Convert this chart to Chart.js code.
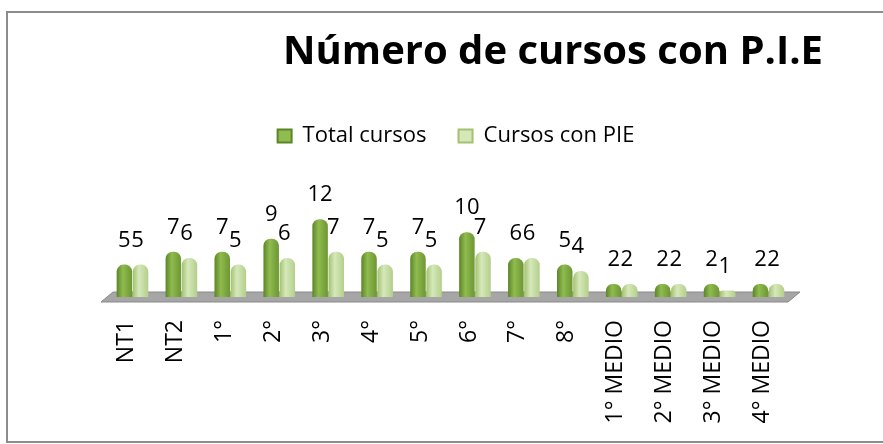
<!DOCTYPE html>
<html>
<head>
<meta charset="utf-8">
<script src="https://cdn.jsdelivr.net/npm/chart.js@4.4.1/dist/chart.umd.min.js"></script>
<style>
  html, body { margin: 0; padding: 0; background: #fff; }
  #wrap { width: 883px; height: 444px; }
</style>
</head>
<body>
<div id="wrap"><canvas id="chart"></canvas></div>
<script>
// data
const categories = ['NT1', 'NT2', '1°', '2°', '3°', '4°', '5°', '6°', '7°', '8°',
  '1° MEDIO', '2° MEDIO', '3° MEDIO', '4° MEDIO'];
const totalCursos = [5, 7, 7, 9, 12, 7, 7, 10, 6, 5, 2, 2, 2, 2];
const cursosConPIE = [5, 6, 5, 6, 7, 5, 5, 7, 6, 4, 2, 2, 1, 2];
const chartTitle = 'Número de cursos con P.I.E';

const FONT = '"Open Sans", "Noto Sans", sans-serif';
const CAT_PCT = 0.66;
const BAR_PCT = 0.96;

// cylinder-ish shading, light in the middle
const shades = [
  ['#5b8527', '#8fbb4f', '#6c9732'],
  ['#a2c271', '#d6e8ba', '#b3cf8a']
];

// gradient across one bar, position taken from the x scale
function barFill(context) {
  const chart = context.chart;
  const x = chart.scales.x;
  const di = context.datasetIndex;
  if (!x || context.type !== 'data' || !isFinite(x.left)) return shades[di][0];
  const catW = x.width / chart.data.labels.length;
  const slot = catW * CAT_PCT / 2;
  const w = slot * BAR_PCT;
  const cx = x.getPixelForValue(context.dataIndex) + (di - 0.5) * slot;
  const g = chart.ctx.createLinearGradient(cx - w / 2, 0, cx + w / 2, 0);
  g.addColorStop(0, shades[di][0]);
  g.addColorStop(0.4, shades[di][1]);
  g.addColorStop(1, shades[di][2]);
  return g;
}

// frame, grey floor and title
const decorPlugin = {
  id: 'decor',
  beforeDraw(chart) {
    const ctx = chart.ctx;
    ctx.save();
    ctx.fillStyle = '#fff';
    ctx.fillRect(0, 0, chart.width, chart.height);
    ctx.strokeStyle = '#8c8c8c';
    ctx.lineWidth = 2;
    ctx.strokeRect(7, 12, chart.width - 6, chart.height - 14);
    ctx.restore();
  },
  beforeDatasetsDraw(chart) {
    const ctx = chart.ctx;
    const x = chart.scales.x, y = chart.scales.y;
    const y0 = y.getPixelForValue(0);
    ctx.save();
    ctx.fillStyle = '#a6a6a6';
    ctx.strokeStyle = '#8a8a8a';
    ctx.lineWidth = 1;
    ctx.beginPath();
    ctx.moveTo(x.left + 5, y0 - 5);
    ctx.lineTo(x.right + 7, y0 - 5);
    ctx.lineTo(x.right - 5, y0 + 5);
    ctx.lineTo(x.left - 7, y0 + 5);
    ctx.closePath();
    ctx.fill();
    ctx.stroke();
    ctx.restore();
  },
  afterDraw(chart) {
    const ctx = chart.ctx;
    ctx.save();
    ctx.fillStyle = '#000';
    ctx.font = 'bold 40px ' + FONT;
    ctx.textAlign = 'center';
    ctx.textBaseline = 'alphabetic';
    ctx.fillText(chartTitle, 553, 64);
    ctx.restore();
  }
};

// value labels over the bars
const valuePlugin = {
  id: 'values',
  afterDatasetsDraw(chart) {
    const ctx = chart.ctx;
    ctx.save();
    ctx.fillStyle = '#000';
    ctx.font = '22px ' + FONT;
    ctx.textAlign = 'center';
    ctx.textBaseline = 'middle';
    chart.data.datasets.forEach((ds, di) => {
      const meta = chart.getDatasetMeta(di);
      meta.data.forEach((bar, i) => {
        ctx.fillText(String(ds.data[i]), bar.x - 3 * di, bar.y - 24);
      });
    });
    ctx.restore();
  }
};

new Chart(document.getElementById('chart'), {
  type: 'bar',
  data: {
    labels: categories,
    datasets: [
      {
        label: 'Total cursos',
        data: totalCursos,
        backgroundColor: barFill,
        borderRadius: { topLeft: 7, topRight: 7 },
        borderSkipped: 'bottom'
      },
      {
        label: 'Cursos con PIE',
        data: cursosConPIE,
        backgroundColor: barFill,
        borderRadius: { topLeft: 7, topRight: 7 },
        borderSkipped: 'bottom'
      }
    ]
  },
  options: {
    responsive: true,
    maintainAspectRatio: false,
    animation: false,
    layout: { padding: { left: 108, right: 79, top: 93, bottom: 0 } },
    categoryPercentage: CAT_PCT,
    barPercentage: BAR_PCT,
    plugins: {
      title: { display: false },
      tooltip: { enabled: false },
      legend: {
        display: true,
        position: 'top',
        labels: {
          font: { family: FONT, size: 22 },
          color: '#000',
          boxWidth: 14,
          boxHeight: 13,
          padding: 32,
          generateLabels(chart) {
            return chart.data.datasets.map((ds, i) => ({
              text: ds.label,
              fillStyle: shades[i][1],
              strokeStyle: shades[i][0],
              lineWidth: 2,
              datasetIndex: i
            }));
          }
        }
      }
    },
    scales: {
      x: {
        grid: { display: false },
        border: { display: false },
        ticks: {
          color: '#000',
          font: { family: FONT, size: 23 },
          minRotation: 90,
          maxRotation: 90,
          autoSkip: false,
          padding: 15,
          labelOffset: -6
        },
        afterFit(scale) { scale.height = 147; }
      },
      y: {
        position: 'right',
        min: 0,
        max: 21.6,
        grid: { display: false },
        border: { display: false },
        ticks: { display: false },
        afterFit(scale) { scale.width = 11; }
      }
    }
  },
  plugins: [decorPlugin, valuePlugin]
});
</script>
</body>
</html>
